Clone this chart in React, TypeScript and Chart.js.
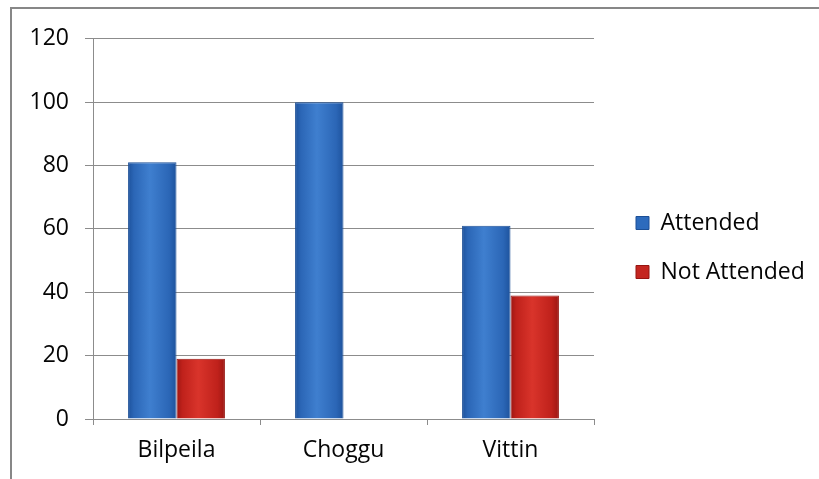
import React, { useEffect, useRef } from "react";
import { Chart, registerables } from "chart.js";

Chart.register(...registerables);

const categories = ["Bilpeila", "Choggu", "Vittin"];
const attended = [81, 100, 61];
const notAttended = [19, 0, 39];
const yTicks = [0, 20, 40, 60, 80, 100, 120];

const FONT = "'Open Sans', 'Liberation Sans', sans-serif";
const GRID = "#8c8c8c";
const TEXT = "#050505";

function barGradient(ctx: any, dark: string, mid: string, light: string, solid: string) {
  const chart = ctx.chart;
  const meta = chart.getDatasetMeta(ctx.datasetIndex);
  const el: any = meta && meta.data ? meta.data[ctx.dataIndex] : null;
  if (!el || typeof el.x !== "number" || !el.width) return solid;
  const x0 = el.x - el.width / 2;
  const x1 = el.x + el.width / 2;
  const g = chart.ctx.createLinearGradient(x0, 0, x1, 0);
  g.addColorStop(0, dark);
  g.addColorStop(0.12, mid);
  g.addColorStop(0.45, light);
  g.addColorStop(0.85, mid);
  g.addColorStop(1, dark);
  return g;
}

const legendPlace = {
  id: "legendPlace",
  afterLayout(chart: any) {
    const l = chart.legend;
    if (l) {
      const w = l.right - l.left;
      l.left = 598;
      l.right = 598 + w;
      l.top -= 6;
      l.bottom -= 6;
    }
  },
};

export default function App() {
  const ref = useRef<HTMLCanvasElement | null>(null);
  useEffect(() => {
    if (!ref.current) return;
    const chart = new Chart(ref.current, {
      type: "bar",
      data: {
        labels: categories,
        datasets: [
          {
            label: "Attended",
            data: attended,
            backgroundColor: (c: any) => barGradient(c, "#1d529c", "#2b66b6", "#3f7fcf", "#2d6bbd"),
            borderColor: "#1c4f96",
            borderWidth: 1,
            barPercentage: 1,
            categoryPercentage: 0.58,
          },
          {
            label: "Not Attended",
            data: notAttended,
            backgroundColor: (c: any) => barGradient(c, "#9c1612", "#bf211b", "#d9342b", "#c42620"),
            borderColor: "#961511",
            borderWidth: 1,
            barPercentage: 1,
            categoryPercentage: 0.58,
          },
        ],
      },
      options: {
        animation: false,
        responsive: false,
        maintainAspectRatio: false,
        layout: { padding: { top: 19, right: 31, bottom: 0, left: 0 } },
        plugins: {
          tooltip: { enabled: false },
          legend: {
            position: "right",
            labels: {
              boxWidth: 13,
              boxHeight: 13,
              padding: 26,
              color: TEXT,
              font: { family: FONT, size: 23 },
              generateLabels: (ch: any) =>
                ch.data.datasets.map((d: any, i: number) => ({
                  text: d.label,
                  fillStyle: i === 0 ? "#2d6bbd" : "#c42620",
                  strokeStyle: i === 0 ? "#1c4f96" : "#961511",
                  lineWidth: 1,
                  hidden: false,
                  datasetIndex: i,
                  fontColor: TEXT,
                })),
            },
          },
        },
        scales: {
          x: {
            grid: {
              drawOnChartArea: false,
              drawTicks: true,
              offset: true,
              tickLength: 6,
              color: GRID,
            },
            border: { display: true, color: GRID },
            ticks: {
              color: TEXT,
              font: { family: FONT, size: 23 },
              padding: 12,
            },
            afterFit: (s: any) => {
              s.height = 60;
            },
          },
          y: {
            min: 0,
            max: 120,
            afterBuildTicks: (s: any) => {
              s.ticks = yTicks.map((v) => ({ value: v }));
            },
            grid: { color: GRID, tickLength: 8, lineWidth: 1 },
            border: { display: true, color: GRID },
            ticks: {
              color: TEXT,
              font: { family: FONT, size: 23 },
              padding: 16,
            },
            afterFit: (s: any) => {
              s.width = 81;
            },
          },
        },
      },
      plugins: [legendPlace],
    } as any);
    chart.update();
    return () => chart.destroy();
  }, []);

  return (
    <div style={{ position: "fixed", left: 0, top: 0, width: 819, height: 479, background: "#fff", overflow: "hidden" }}>
      <div
        style={{
          position: "absolute",
          left: 10,
          top: 7,
          right: -10,
          bottom: -10,
          borderLeft: "2px solid #878787",
          borderTop: "2px solid #878787",
        }}
      />
      <canvas
        ref={ref}
        width={807}
        height={470}
        style={{ position: "absolute", left: 12, top: 9, width: 807, height: 470 }}
      />
    </div>
  );
}
